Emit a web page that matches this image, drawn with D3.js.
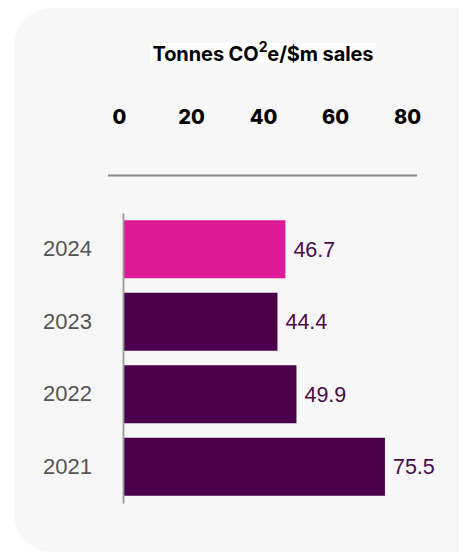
<!DOCTYPE html>
<html><head><meta charset="utf-8">
<script src="https://cdn.jsdelivr.net/npm/d3@7"></script>
<style>html,body{margin:0;padding:0;background:#fff;}svg{display:block;}</style>
</head><body>
<script>
const years = ["2024","2023","2022","2021"];
const values = [46.7, 44.4, 49.9, 75.5];
const barColors = ["#DC1A96","#4B004B","#4B004B","#4B004B"];
const tickValues = [0,20,40,60,80];
const titleParts = ["Tonnes CO","2","e/$m sales"];

const W = 459, H = 553;
const svg = d3.select("body").append("svg").attr("width", W).attr("height", H);

svg.append("rect").attr("x",14).attr("y",8).attr("width",445+40).attr("height",544)
  .attr("rx",38).attr("fill","#f7f7f7");

// title
svg.append("rect").attr("x",150).attr("y",43).attr("width",226).attr("height",21).attr("fill","#fff");
const t = svg.append("text").attr("x",263).attr("y",61).attr("text-anchor","middle")
  .attr("font-family","Inter, 'Liberation Sans', sans-serif").attr("font-weight",700)
  .attr("font-size",20).attr("letter-spacing",-0.1).attr("fill","#000");
t.append("tspan").text(titleParts[0]);
t.append("tspan").attr("dy",-9).attr("font-size",14).text(titleParts[1]);
t.append("tspan").attr("dy",9).text(titleParts[2]);

// scales
const x = d3.scaleLinear().domain([0,80]).range([124, 400.5]);
const xTicks = d3.scaleLinear().domain([0,80]).range([119, 407]);
const y = d3.scaleBand().domain(years).range([213,503]).paddingInner(0.2).paddingOuter(0.1);

// top tick labels
const ax = svg.append("g").attr("transform","translate(0,124)")
  .call(d3.axisTop(xTicks).tickValues(tickValues).tickSize(0).tickPadding(0));
ax.select(".domain").remove();
ax.selectAll("text").attr("font-family","Inter, 'Liberation Sans', sans-serif")
  .attr("font-weight",800).attr("font-size",20).attr("fill","#000");

// horizontal rule
svg.append("line").attr("x1",108).attr("x2",417).attr("y1",175.5).attr("y2",175.5)
  .attr("stroke","#8a8a8a").attr("stroke-width",2);

// bars
svg.selectAll("rect.bar").data(years).enter().append("rect").attr("class","bar")
  .attr("x", x(0)).attr("y", d => y(d))
  .attr("width", (d,i) => x(values[i]) - x(0)).attr("height", y.bandwidth())
  .attr("fill", (d,i) => barColors[i]);

// vertical axis line
const ay = svg.append("g").attr("transform",`translate(${x(0)-1},0)`)
  .call(d3.axisLeft(y).tickSize(0).tickPadding(31));
ay.select(".domain").attr("stroke","#999").attr("stroke-width",1.8);
ay.selectAll("text").attr("font-family","'Liberation Sans', Arial, sans-serif")
  .attr("font-size",22).attr("fill","#555");

// value labels
svg.selectAll("text.val").data(years).enter().append("text").attr("class","val")
  .attr("x",(d,i) => x(values[i]) + 8).attr("y", d => y(d) + y.bandwidth()/2)
  .attr("dy","0.36em")
  .attr("font-family","'Liberation Sans', Arial, sans-serif").attr("font-size",21.5)
  .attr("fill","#4B0A4B").text((d,i) => values[i].toFixed(1));
</script>
</body></html>
